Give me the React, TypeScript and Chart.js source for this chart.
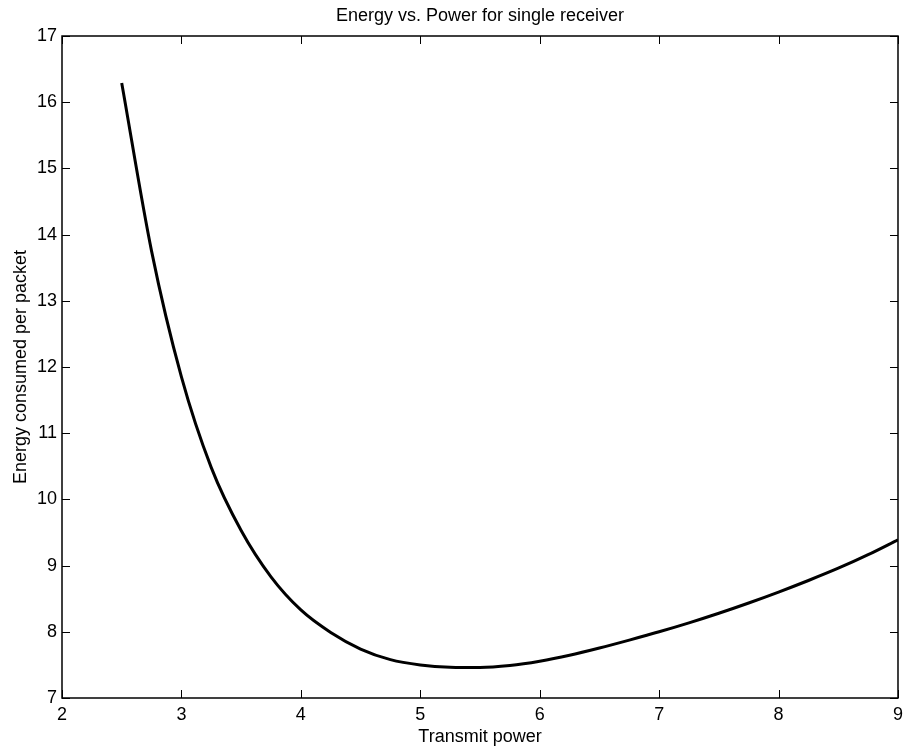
import React, { useEffect, useRef } from "react";
import { Chart, registerables } from "chart.js";

Chart.register(...registerables);

const chartTitle = "Energy vs. Power for single receiver";
const xAxisLabel = "Transmit power";
const yAxisLabel = "Energy consumed per packet";

const powerValues = [
  2.5, 2.75, 3.0, 3.25, 3.5, 3.75, 4.0, 4.25, 4.5, 4.75, 5.0, 5.25, 5.5, 5.75,
  6.0, 6.25, 6.5, 6.75, 7.0, 7.25, 7.5, 7.75, 8.0, 8.25, 8.5, 8.75, 9.0,
];
const energyValues = [
  16.29, 13.75, 11.85, 10.48, 9.53, 8.83, 8.33, 7.99, 7.74, 7.58, 7.5, 7.465,
  7.46, 7.49, 7.555, 7.645, 7.755, 7.875, 8.0, 8.135, 8.28, 8.435, 8.6, 8.775,
  8.96, 9.165, 9.39,
];

const xMin = 2;
const xMax = 9;
const yMin = 7;
const yMax = 17;

const FONT = "'Liberation Sans', Arial, Helvetica, sans-serif";

const frameTicks = {
  id: "frameTicks",
  afterDraw(chart: any) {
    const { ctx, chartArea: a, scales } = chart;
    const xs = scales.x;
    const ys = scales.y;
    const L = 8;
    ctx.save();
    ctx.strokeStyle = "#000";
    ctx.lineWidth = 1;
    ctx.beginPath();
    xs.ticks.forEach((t: any) => {
      const px = Math.round(xs.getPixelForValue(t.value)) + 0.5;
      ctx.moveTo(px, a.bottom);
      ctx.lineTo(px, a.bottom - L);
      ctx.moveTo(px, a.top);
      ctx.lineTo(px, a.top + L);
    });
    ys.ticks.forEach((t: any) => {
      const py = Math.round(ys.getPixelForValue(t.value)) + 0.5;
      ctx.moveTo(a.left, py);
      ctx.lineTo(a.left + L, py);
      ctx.moveTo(a.right, py);
      ctx.lineTo(a.right - L, py);
    });
    ctx.stroke();
    ctx.lineWidth = 1.5;
    ctx.strokeRect(a.left, a.top, a.right - a.left, a.bottom - a.top);
    ctx.restore();
  },
};

export default function App() {
  const ref = useRef<HTMLCanvasElement | null>(null);

  useEffect(() => {
    if (!ref.current) return;
    const data = powerValues.map((x, i) => ({ x, y: energyValues[i] }));
    const chart = new Chart(ref.current, {
      type: "line",
      data: {
        datasets: [
          {
            data,
            borderColor: "#000",
            borderWidth: 3,
            pointRadius: 0,
            fill: false,
            cubicInterpolationMode: "monotone",
          },
        ],
      },
      options: {
        responsive: false,
        animation: false,
        layout: { padding: { left: 0, right: 7, top: 0, bottom: 0 } },
        plugins: {
          legend: { display: false },
          tooltip: { enabled: false },
          title: {
            display: true,
            text: chartTitle,
            fullSize: false,
            color: "#000",
            font: { family: FONT, size: 18, weight: "normal" },
            padding: { top: 5, bottom: 9.4 },
          },
        },
        scales: {
          x: {
            type: "linear",
            min: xMin,
            max: xMax,
            grid: { display: false, drawTicks: false },
            border: { display: false },
            ticks: {
              stepSize: 1,
              padding: 6,
              color: "#000",
              font: { family: FONT, size: 18 },
              maxRotation: 0,
            },
            title: {
              display: true,
              text: xAxisLabel,
              color: "#000",
              font: { family: FONT, size: 18 },
              padding: { top: 0, bottom: 3 },
            },
            afterFit(scale: any) {
              scale.height = 53;
            },
          },
          y: {
            type: "linear",
            min: yMin,
            max: yMax,
            grid: { display: false, drawTicks: false },
            border: { display: false },
            ticks: {
              stepSize: 1,
              padding: 5,
              color: "#000",
              font: { family: FONT, size: 18 },
            },
            title: {
              display: true,
              text: yAxisLabel,
              color: "#000",
              font: { family: FONT, size: 18 },
              padding: { top: 10, bottom: 0 },
            },
            afterFit(scale: any) {
              scale.width = 62;
            },
          },
        },
      } as any,
      plugins: [frameTicks],
    });
    return () => chart.destroy();
  }, []);

  return (
    <div style={{ position: "absolute", left: 0, top: 0, width: 909, height: 751, background: "#fff" }}>
      <canvas ref={ref} width={909} height={751} style={{ display: "block" }} />
    </div>
  );
}
